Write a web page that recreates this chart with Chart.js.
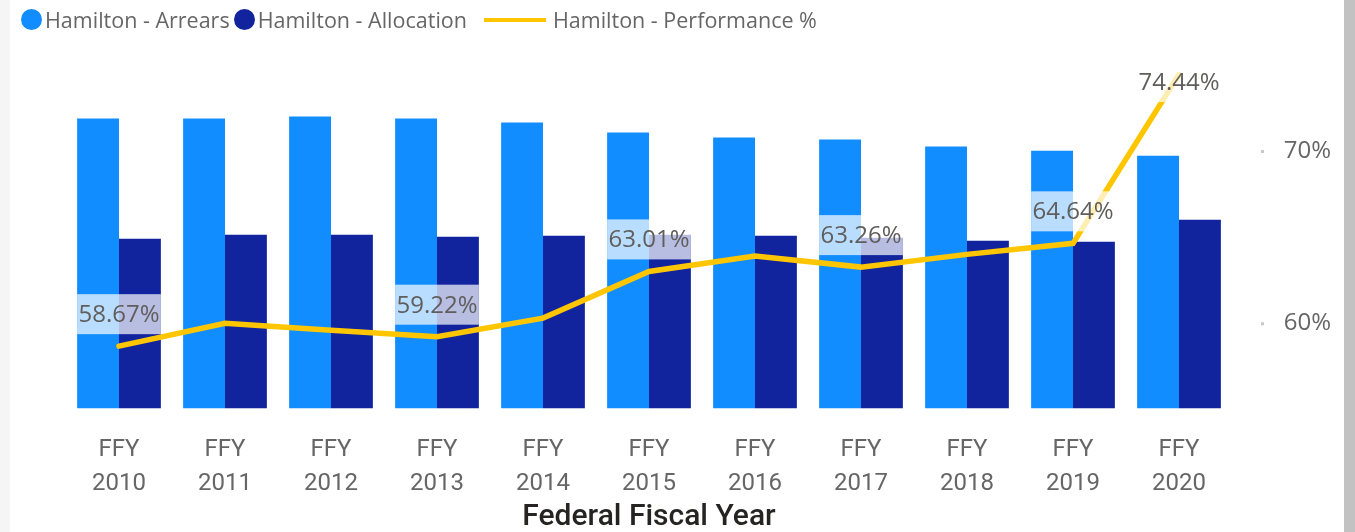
<!DOCTYPE html>
<html>
<head>
<meta charset="utf-8">
<script src="https://cdn.jsdelivr.net/npm/chart.js@4.4.1/dist/chart.umd.min.js"></script>
<style>
  html, body { margin: 0; padding: 0; background: #fff; }
  body { width: 1355px; height: 532px; position: relative; overflow: hidden; }
  .bandLeft { position: absolute; left: 0; top: 0; width: 10px; height: 532px; background: #f5f5f5; }
  .bandRight { position: absolute; left: 1344px; top: 0; width: 11px; height: 532px; background: #c2c2c2; }
  .wrap { position: absolute; left: 10px; top: 0; width: 1334px; height: 532px; }
  .legend { position: absolute; left: 21px; top: 5px; display: flex; align-items: center;
    font-family: 'Open Sans', sans-serif; font-size: 21.5px; color: #666; white-space: nowrap; z-index: 2; }
  .dot { width: 21px; height: 21px; border-radius: 50%; display: inline-block; margin-right: 3px; }
  .ln { width: 62px; height: 4px; display: inline-block; margin-left: 17px; margin-right: 7px; }
</style>
</head>
<body>
<div class="bandLeft"></div>
<div class="bandRight"></div>
<div class="legend" id="legend"></div>
<div class="wrap"><canvas id="myChart"></canvas></div>
<script>
// data (bar values are relative, axis is hidden)
const years = ['2010', '2011', '2012', '2013', '2014', '2015', '2016', '2017', '2018', '2019', '2020'];
const arrears = [289.5, 289.5, 291.5, 289.5, 285.5, 275.5, 270.5, 268.5, 261.5, 257.5, 252.5];
const allocation = [169.5, 173.5, 173.5, 171.5, 172.5, 173.5, 172.5, 170.5, 167.5, 166.5, 188.5];
const performance = [58.67, 60.0, 59.6, 59.22, 60.3, 63.01, 63.9, 63.26, 64.0, 64.64, 74.44];
const labelledYears = ['2010', '2013', '2015', '2017', '2019', '2020'];
const perfTicks = [60, 70];

const arrearsColor = '#118DFF';
const allocColor = '#12239E';
const perfColor = '#FFC600';

// legend (html)
let legend = document.getElementById('legend');
legend.innerHTML =
  '<span class="dot" style="background:' + arrearsColor + '"></span><span>Hamilton - Arrears</span>' +
  '<span class="dot" style="background:' + allocColor + ';margin-left:4px"></span><span>Hamilton - Allocation</span>' +
  '<span class="ln" style="background:' + perfColor + '"></span><span>Hamilton - Performance %</span>';

// data labels with the faded white box
const perfLabels = {
  id: 'perfLabels',
  afterDatasetsDraw(chart) {
    let ctx = chart.ctx;
    let area = chart.chartArea;
    let meta = chart.getDatasetMeta(2);
    let xs = chart.scales.x;
    let boxW = xs.width / years.length * 0.79;
    let boxH = 40;
    ctx.save();
    ctx.font = '24px "Open Sans"';
    ctx.textAlign = 'center';
    ctx.textBaseline = 'middle';
    labelledYears.forEach(function (yr) {
      let i = years.indexOf(yr);
      let pt = meta.data[i];
      let top = Math.max(area.top, pt.y - 12 - boxH);
      ctx.fillStyle = 'rgba(255,255,255,0.7)';
      ctx.fillRect(pt.x - boxW / 2, top, boxW, boxH);
      ctx.fillStyle = '#605E5C';
      ctx.fillText(performance[i].toFixed(2) + '%', pt.x, top + boxH / 2 + 1);
    });
    ctx.restore();
  }
};

// tiny grey marks beside the right axis ticks
const tickDots = {
  id: 'tickDots',
  afterDraw(chart) {
    let ctx = chart.ctx;
    let s = chart.scales.y2;
    ctx.save();
    ctx.fillStyle = '#c8c8c8';
    perfTicks.forEach(function (v) {
      ctx.fillRect(s.left + 29, s.getPixelForValue(v) - 1, 3, 3);
    });
    ctx.restore();
  }
};

let ctx = document.getElementById('myChart').getContext('2d');
let myChart = new Chart(ctx, {
  type: 'bar',
  data: {
    labels: years.map(y => ['FFY', y]),
    datasets: [{
      label: 'Hamilton - Arrears',
      data: arrears,
      backgroundColor: arrearsColor,
      yAxisID: 'y',
      order: 2,
      categoryPercentage: 0.79,
      barPercentage: 1.0
    }, {
      label: 'Hamilton - Allocation',
      data: allocation,
      backgroundColor: allocColor,
      yAxisID: 'y',
      order: 2,
      categoryPercentage: 0.79,
      barPercentage: 1.0
    }, {
      type: 'line',
      label: 'Hamilton - Performance %',
      data: performance,
      borderColor: perfColor,
      borderWidth: 5.5,
      borderCapStyle: 'round',
      pointRadius: 0,
      tension: 0,
      fill: false,
      yAxisID: 'y2',
      order: 0
    }]
  },
  options: {
    responsive: true,
    maintainAspectRatio: false,
    animation: false,
    layout: { padding: { top: 62, left: 56, right: 13, bottom: 0 } },
    plugins: {
      legend: { display: false },
      tooltip: { enabled: false }
    },
    scales: {
      x: {
        grid: { display: false, drawTicks: false },
        border: { display: false },
        afterFit: function (scale) {
          scale.height = 123.5;
        },
        ticks: {
          color: '#666',
          font: { family: 'Roboto', size: 24, lineHeight: 1.4 },
          padding: 25,
          maxRotation: 0,
          autoSkip: false
        },
        title: {
          display: true,
          text: 'Federal Fiscal Year',
          color: '#252423',
          font: { family: 'Roboto', size: 30, weight: '500', lineHeight: 1.0 },
          padding: { top: 0, bottom: 0 }
        }
      },
      y: {
        display: false,
        min: 0,
        max: 346
      },
      y2: {
        position: 'right',
        min: 55.05,
        max: 75.17,
        grid: { display: false, drawTicks: false },
        border: { display: false },
        afterBuildTicks: function (scale) {
          scale.ticks = perfTicks.map(v => ({ value: v }));
        },
        afterFit: function (scale) {
          scale.width = 99;
        },
        ticks: {
          color: '#666',
          font: { family: 'Open Sans', size: 24 },
          padding: 0,
          crossAlign: 'far',
          callback: v => v + '%'
        }
      }
    }
  },
  plugins: [perfLabels, tickDots]
});
</script>
</body>
</html>
